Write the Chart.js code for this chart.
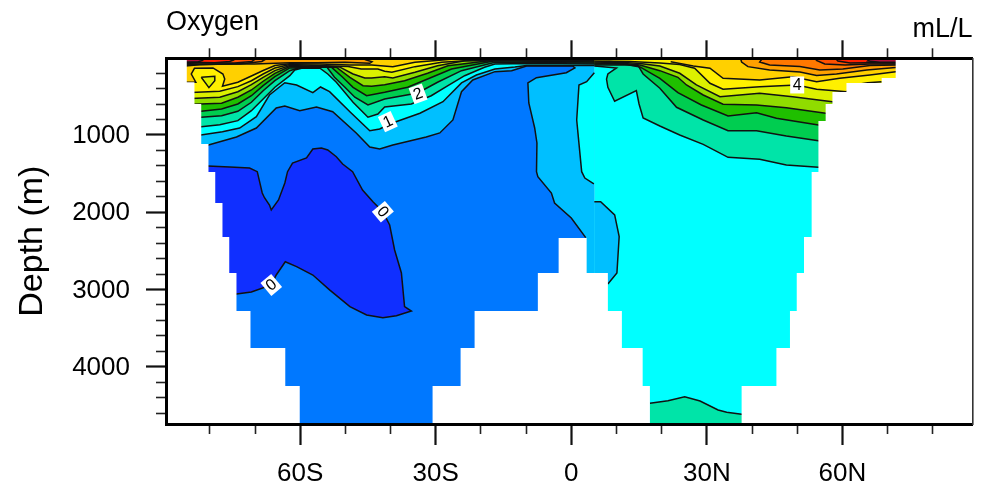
<!DOCTYPE html>
<html>
<head>
<meta charset="utf-8">
<title>Oxygen</title>
<script src="https://cdn.jsdelivr.net/npm/chart.js@4"></script>
<style>
  html, body { margin: 0; padding: 0; background: #fff; }
  #wrap { width: 991px; height: 489px; }
</style>
</head>
<body>
<div id="wrap"><canvas id="chart"></canvas></div>
<script>
// Axis ranges and ticks
const latMin = -89.7, latMax = 88.8;
const depthMin = 8, depthMax = 4740;
const latTicks = [-60, -30, 0, 30, 60];
const latMinorTicks = [-80, -70, -50, -40, -20, -10, 10, 20, 40, 50, 70, 80];
const depthTicks = [1000, 2000, 3000, 4000];
const depthMinorTicks = [200, 400, 600, 800, 1200, 1400, 1600, 1800, 2200, 2400, 2600, 2800, 3200, 3400, 3600, 3800, 4200, 4400, 4600];

// Contours, [latitude, depth]. s = south of the 5N break, n = north of it
const s00 = [[-82.3,1401],[-80.5,1401],[-75.6,1414],[-71.2,1427],[-69.5,1475],[-68.4,1751],[-67.9,1812],[-66.8,1906],[-66.4,1971],[-64.8,1841],[-63.4,1621],[-62.8,1475],[-61.7,1363],[-58.6,1298],[-57.2,1181],[-55.3,1168],[-53.9,1194],[-52,1281],[-50.6,1376],[-48.4,1475],[-46.2,1712],[-43.9,1863],[-41.7,1993],[-40.2,2165],[-39.1,2488],[-37.6,2786],[-36.9,3222],[-35.4,3278],[-38.7,3338],[-41.7,3364],[-45.3,3329],[-49,3222],[-53.5,3005],[-57.2,2812],[-60.8,2704],[-63.3,2640],[-65.3,2812],[-66.4,2941],[-70.8,3032],[-74.1,3058],[-76.7,3058]];
const s05 = [[-86.7,1143],[-80.3,1130],[-74.1,1026],[-69.7,910],[-65.3,651],[-63.4,625],[-60.1,686],[-56.4,638],[-52.8,699],[-47.6,974],[-44.6,1156],[-42.4,1181],[-39.5,1130],[-32.1,1026],[-29.1,974],[-26.2,806],[-24.3,440],[-21.8,289],[-16.9,181],[-13.2,168],[-9.9,107],[0.3,107],[0.8,133],[-1.1,194],[-7.7,259],[-9.6,327],[-9.4,586],[-8.1,910],[-7.6,1104],[-7.7,1475],[-7.4,1540],[-4.4,1751],[-3.7,1880],[0,2074],[3.2,2329]];
const s10 = [[-86.7,1000],[-82,1000],[-77.2,958],[-73.4,910],[-69.7,763],[-66.8,483],[-63.4,324],[-60.8,353],[-57.2,453],[-55.5,379],[-53.5,440],[-49,699],[-44.6,945],[-42.4,923],[-40.2,858],[-33.5,719],[-28.4,569],[-24.3,327],[-21,224],[-16.9,146],[-12.5,120],[-9.9,101],[4.1,101],[5.1,101]];
const s10Wedge = [[5.1,194],[3.4,311],[1.7,353],[1.2,806],[2.3,1475],[3,1557],[5,1634]];
const s15 = [[-86.7,893],[-81.9,893],[-77.8,867],[-73.8,815],[-70.8,686],[-68.2,534],[-65.6,383],[-62.3,233],[-61.2,159],[-59.7,137],[-55.7,133],[-53.9,211],[-52,318],[-48.3,577],[-45,771],[-42.8,729],[-41.3,638],[-35.4,599],[-31,492],[-27.3,362],[-23.6,233],[-19.2,124],[-16.9,82],[-9.2,75],[5.1,82]];
const s20 = [[-86.7,771],[-81.9,771],[-77.4,751],[-73.8,694],[-70.8,577],[-68.2,427],[-65.6,298],[-62.3,168],[-60.1,127],[-54.1,120],[-52.4,254],[-50.1,383],[-47.9,512],[-45,612],[-41.3,534],[-34,457],[-29.6,318],[-24.3,168],[-16.9,60],[5.1,69]];
const s25 = [[-86.7,694],[-81.9,694],[-77.4,664],[-73.8,599],[-70.8,492],[-68.2,362],[-65.6,246],[-62.3,133],[-53.1,122],[-50.6,254],[-48.3,383],[-45.3,492],[-41.3,448],[-36.2,383],[-31.8,276],[-26.5,146],[-16.9,39],[5.1,56]];
const s30 = [[-86.7,608],[-77.4,590],[-73.8,512],[-70.8,418],[-68.2,305],[-65.6,202],[-62.3,114],[-52,124],[-49,254],[-46.1,362],[-44.2,370],[-41.3,349],[-36.9,298],[-31.8,202],[-27.3,104],[-16.9,30],[5.1,43]];
const s35 = [[-86.7,534],[-77.8,512],[-73.8,440],[-70.8,349],[-68.2,254],[-65.6,168],[-62.3,101],[-51.3,120],[-48.3,211],[-45.7,263],[-44.2,263],[-41.3,246],[-39.5,263],[-34.6,189],[-29.6,104],[-23.6,39],[5.1,36]];
const s40 = [[-86.7,457],[-77.8,435],[-73.8,375],[-70.8,298],[-68.2,211],[-65.6,133],[-62.3,88],[-49.4,114],[-46.5,146],[-42.8,146],[-41.3,176],[-39.7,189],[-34.6,116],[-28.7,60],[-20.7,30],[-13.6,17]];
const s45 = [[-86.7,318],[-83.1,318],[-84.1,211],[-83.4,137],[-79.3,133],[-77.1,211],[-76.7,276],[-77.2,370],[-73.8,318],[-70.8,237],[-68.2,166],[-65.6,101],[-62.3,78],[-55.7,82],[-49,94],[-44.2,94],[-39.5,116],[-34.6,60],[-28.5,30],[-25.8,17]];
const s50 = [[-86.7,114],[-82.3,91],[-74.9,78],[-70.1,82],[-62.3,66],[-56.1,65],[-50.1,60],[-44.6,72],[-44.1,52],[-45.7,23]];
const s55 = [[-86.7,94],[-82.3,88],[-73.4,82],[-68.5,49],[-67.6,17]];
const s60 = [[-86.7,75],[-82.3,69],[-74.5,69],[-70.7,49],[-69.9,17]];
const s65 = [[-86.7,69],[-82.3,62],[-78.9,65],[-75.6,49],[-74.7,30],[-74.7,17]];
const s70 = [[-86.7,56],[-82.7,56],[-81.6,36],[-81.4,17]];
const sPocket = [[-81.9,254],[-78.9,241],[-78.9,298],[-80.2,388],[-81.9,254]];

const n10 = [[5.1,1863],[6.5,1863],[9.6,2035],[10.6,2316],[10.1,2786],[8.1,2928]];
const n15 = [[5.1,107],[7,116],[10,133],[8.1,211],[7.8,276],[8.1,383],[9.6,564],[14.4,427],[15,599],[15.9,780],[19.6,884],[24,1000],[29.2,1121],[34.7,1289],[41.7,1315],[47.6,1388],[54.7,1418],[75,1418]];
const n15Deep = [[17.4,4472],[21.4,4438],[25.1,4387],[28.5,4442],[32.5,4559],[34.4,4589],[37.7,4614],[39,4614]];
const n20 = [[5.1,94],[11.8,90],[14.8,104],[15.9,211],[19.6,396],[23.3,642],[29.2,806],[34.7,945],[41,945],[47.6,1013],[54.7,1074],[75,1078]];
const n25 = [[5.1,82],[10.7,72],[15.2,120],[19.6,267],[23.6,453],[28.8,612],[34.7,754],[41,712],[45.4,784],[54.7,871],[75,884]];
const n30 = [[5.1,69],[9.6,62],[15.2,94],[19.6,168],[23.6,254],[25.5,353],[29.2,483],[33.6,603],[41,612],[47.6,647],[56.3,719],[75,729]];
const n35 = [[5.1,56],[8.5,50],[15.2,75],[19.6,107],[24,202],[27.7,353],[32.9,505],[41.7,461],[49,505],[57.8,569],[75,573]];
const n40 = [[5.1,43],[13,49],[19.6,69],[24,88],[27.3,137],[30.7,331],[33.6,409],[41.7,375],[49.9,353],[54.3,409],[60.9,440],[63.9,340],[65.6,324],[68.7,311]];
const n45 = [[22,52],[27,107],[30.7,137],[33.6,267],[41.7,289],[49,246],[54.3,311],[59.4,267],[66.1,224],[71.8,181],[75,172]];
const n50 = [[37.5,17],[37.7,56],[39.1,116],[43.9,159],[50.6,185],[54.3,230],[58.7,211],[65.4,159],[71.8,127],[75,120]];
const n55 = [[42.2,17],[41.7,56],[43.9,94],[50.6,114],[55,159],[60.1,146],[66.1,101],[71.8,94],[75,94]];
const n60 = [[54.6,17],[54.3,36],[56.1,82],[60.6,94],[66.1,82],[71.8,82],[75,82]];
const n65 = [[58.6,17],[59,43],[61.7,69],[66.1,66],[71.8,69],[75,69]];
const n70 = [[66.1,17],[65.6,43],[68.3,60],[71.8,60],[75,60]];

// Sea floor steps, the white land outside them
const landWest = [[-95,0],[-85.1,0],[-85.1,318],[-83.4,318],[-83.4,599],[-81.9,599],[-81.9,1117],[-80.3,1117],[-80.3,1479],[-78.8,1479],[-78.8,1880],[-77.2,1880],[-77.2,2320],[-75.7,2320],[-75.7,2786],[-74.1,2786],[-74.1,3278],[-71,3278],[-71,3756],[-63.3,3756],[-63.3,4248],[-60.1,4248],[-60.1,4800],[-95,4800]];
const landMiddle = [[-30.7,4800],[-30.7,4248],[-24.5,4248],[-24.5,3756],[-21.4,3756],[-21.4,3278],[-7.4,3278],[-7.4,2786],[-2.8,2786],[-2.8,2333],[3.4,2333],[3.4,2786],[8.1,2786],[8.1,3278],[11.2,3278],[11.2,3756],[15.8,3756],[15.8,4248],[17.4,4248],[17.4,4800]];
const landEast = [[37.7,4800],[37.7,4248],[45.4,4248],[45.4,3756],[48.4,3756],[48.4,3278],[49.9,3278],[49.9,2786],[51.5,2786],[51.5,2320],[53.2,2320],[53.2,1479],[54.7,1479],[54.7,819],[56.3,819],[56.3,599],[57.8,599],[57.8,444],[60.9,444],[60.9,327],[68.7,327],[68.7,263],[71.8,263],[71.8,0],[95,0],[95,4800]];

// Contour labels
const labelTexts = ['2', '1', '0', '0', '4'];
const labelLats = [-33.9, -40.6, -41.7, -66.4, 50];
const labelDepths = [469, 828, 1993, 2941, 353];
const labelAngles = [-20, -25, 50, -40, 0];

const FONT = "'Liberation Sans', Arial, sans-serif";
const BLACK = '#000';

// Colour per band
const COL = {
    neg: '#102FFF', c00: '#0078FF', c05: '#00BFFF', c10: '#00FFFF', c15: '#00E4A8',
    c20: '#00CD50', c25: '#1FBF00', c30: '#90DC00', c35: '#DCF000', c40: '#FFF000',
    c45: '#FFD000', c50: '#FFA000', c55: '#FF7800', c60: '#FF5000', c65: '#FF2000', c70: '#B0103C'
};

// Polygon from a contour up to the surface
function toSurface(path) {
    return [[path[0][0], 0], ...path, [path[path.length - 1][0], 0]];
}

// fill:'shape' clips to the x of the first and last point, so open and end
// the ring with a flat zero-area spike out to its widest x
function ringPoints(ring) {
    const lats = ring.map(p => p[0]);
    const d = ring[0][1];
    const pts = [[Math.min(...lats), d], ...ring, ring[0], [Math.max(...lats), d]];
    return pts.map(p => ({ x: p[0], y: p[1] }));
}

const fills = [
    { ring: [[-95,0],[5.1,0],[5.1,4800],[-95,4800]], color: COL.c00 },
    { ring: [[5.1,0],[95,0],[95,4800],[5.1,4800]], color: COL.c10 },
    { ring: [...s00, [-85,3058], [-85,1401]], color: COL.neg, line: s00 },
    { ring: toSurface([...s05, [3.2,2900], [5.1,2900]]), color: COL.c05, line: s05 },
    { ring: toSurface(s10), color: COL.c10, line: s10 },
    { ring: [...s10Wedge, [5.2,1634], [5.2,194]], color: COL.c10, line: s10Wedge },
    { ring: toSurface(s15), color: COL.c15, line: s15 },
    { ring: toSurface(s20), color: COL.c20, line: s20 },
    { ring: toSurface(s25), color: COL.c25, line: s25 },
    { ring: toSurface(s30), color: COL.c30, line: s30 },
    { ring: toSurface(s35), color: COL.c35, line: s35 },
    { ring: toSurface(s40), color: COL.c40, line: s40 },
    { ring: sPocket, color: COL.c35, line: sPocket },
    { ring: toSurface(s45), color: COL.c45, line: s45 },
    { ring: toSurface(s50), color: COL.c50, line: s50 },
    { ring: toSurface(s55), color: COL.c55, line: s55 },
    { ring: toSurface(s60), color: COL.c60, line: s60 },
    { ring: toSurface(s65), color: COL.c65, line: s65 },
    { ring: toSurface(s70), color: COL.c70, line: s70 },
    { ring: [...n10, [5.1,2928]], color: COL.c05, line: n10 },
    { ring: toSurface(n15), color: COL.c15, line: n15 },
    { ring: [...n15Deep, [39,4800], [17.4,4800]], color: COL.c15, line: n15Deep },
    { ring: toSurface(n20), color: COL.c20, line: n20 },
    { ring: toSurface(n25), color: COL.c25, line: n25 },
    { ring: toSurface(n30), color: COL.c30, line: n30 },
    { ring: toSurface(n35), color: COL.c35, line: n35 },
    { ring: toSurface([...n40, [75,311]]), color: COL.c40, line: n40 },
    { ring: toSurface(n45), color: COL.c45, line: n45 },
    { ring: toSurface(n50), color: COL.c50, line: n50 },
    { ring: toSurface(n55), color: COL.c55, line: n55 },
    { ring: toSurface(n60), color: COL.c60, line: n60 },
    { ring: toSurface(n65), color: COL.c65, line: n65 },
    { ring: toSurface(n70), color: COL.c70, line: n70 }
];

// Datasets: all fills, then all contour lines, then the land on top.
// The long dash keeps Chart.js off its fast path, which merges points on one pixel column
const datasets = [];
const base = { showLine: true, pointRadius: 0, pointHitRadius: 0, borderDash: [9999] };
fills.forEach(f => {
    datasets.push({ ...base, data: ringPoints(f.ring), fill: 'shape', backgroundColor: f.color, borderWidth: 0 });
});
fills.filter(f => f.line).forEach(f => {
    datasets.push({ ...base, data: f.line.map(p => ({ x: p[0], y: p[1] })), fill: false, borderColor: '#111', borderWidth: 1.5 });
});
[landWest, landMiddle, landEast].forEach(land => {
    datasets.push({ ...base, data: ringPoints(land), fill: 'shape', backgroundColor: '#fff', borderWidth: 0 });
});
datasets.forEach((d, i) => { d.order = -i; });

function setTicks(values) {
    return axis => { axis.ticks = values.map(v => ({ value: v })); };
}

function latLabel(v) {
    if (v === 0) return '0';
    return v < 0 ? (-v) + 'S' : v + 'N';
}

// Axes for the short ticks sit on the same edge with no size of their own
function tickAxis(position, range, values, length, weight, size) {
    return {
        type: 'linear',
        position: position,
        min: range[0],
        max: range[1],
        reverse: range === depthRange,
        weight: weight,
        afterBuildTicks: setTicks(values),
        afterFit: axis => {
            if (position === 'left' || position === 'right') axis.width = size; else axis.height = size;
        },
        ticks: { display: false },
        grid: { drawOnChartArea: false, tickLength: length, tickWidth: 1.6, tickColor: '#222' },
        border: { display: false }
    };
}

const latRange = [latMin, latMax];
const depthRange = [depthMin, depthMax];
const edge = { color: BLACK, width: 3, z: 1 };

const contourLabels = {
    id: 'contourLabels',
    afterDatasetsDraw(chart) {
        const ctx = chart.ctx;
        labelTexts.forEach((t, i) => {
            ctx.save();
            ctx.translate(chart.scales.x.getPixelForValue(labelLats[i]), chart.scales.y.getPixelForValue(labelDepths[i]));
            ctx.rotate(labelAngles[i] * Math.PI / 180);
            ctx.fillStyle = '#fff';
            ctx.fillRect(-7, -8.5, 14, 17);
            ctx.fillStyle = BLACK;
            ctx.font = '16px ' + FONT;
            ctx.textAlign = 'center';
            ctx.textBaseline = 'middle';
            ctx.fillText(t, 0, 0.5);
            ctx.restore();
        });
    }
};

new Chart(document.getElementById('chart').getContext('2d'), {
    type: 'scatter',
    data: { datasets: datasets },
    plugins: [contourLabels],
    options: {
        responsive: true,
        maintainAspectRatio: false,
        animation: false,
        events: [],
        layout: { padding: 0 },
        plugins: {
            legend: { display: false },
            tooltip: { enabled: false },
            title: {
                display: true,
                text: 'Oxygen',
                align: 'start',
                fullSize: false,
                color: BLACK,
                font: { family: FONT, size: 27, weight: 'normal', lineHeight: 1.2 },
                padding: { top: 6, bottom: 0 }
            }
        },
        scales: {
            x: {
                type: 'linear',
                position: 'bottom',
                min: latMin,
                max: latMax,
                weight: 1,
                afterBuildTicks: setTicks(latTicks),
                afterFit: axis => { axis.height = 65; },
                ticks: {
                    callback: latLabel,
                    autoSkip: false,
                    maxRotation: 0,
                    padding: 13.5,
                    color: BLACK,
                    font: { family: FONT, size: 26 }
                },
                grid: { drawOnChartArea: false, tickLength: 21, tickWidth: 2.2, tickColor: '#111' },
                border: edge
            },
            xMinor: tickAxis('bottom', latRange, latMinorTicks, 10, 0, 0),
            xTop: {
                type: 'linear',
                position: 'top',
                min: latMin,
                max: latMax,
                weight: 1,
                afterBuildTicks: setTicks(latTicks),
                afterFit: axis => { axis.height = 19.9; },
                title: {
                    display: true,
                    text: 'mL/L',
                    align: 'end',
                    color: BLACK,
                    font: { family: FONT, size: 27, lineHeight: 1.2 },
                    padding: { top: -24.6, bottom: 0 }
                },
                ticks: { display: false },
                grid: { drawOnChartArea: false, tickLength: 18, tickWidth: 2.2, tickColor: '#111' },
                border: edge
            },
            xTopMinor: tickAxis('top', latRange, latMinorTicks, 10, 0, 0),
            y: {
                type: 'linear',
                position: 'left',
                reverse: true,
                min: depthMin,
                max: depthMax,
                weight: 1,
                afterBuildTicks: setTicks(depthTicks),
                afterFit: axis => { axis.width = 166; },
                title: {
                    display: true,
                    text: 'Depth (m)',
                    color: BLACK,
                    font: { family: FONT, size: 34, lineHeight: 1.2 },
                    padding: { top: 12, bottom: 0 }
                },
                ticks: {
                    autoSkip: false,
                    padding: 16,
                    labelOffset: 1,
                    color: BLACK,
                    font: { family: FONT, size: 26 },
                    callback: v => String(v)
                },
                grid: { drawOnChartArea: false, tickLength: 20, tickWidth: 2.2, tickColor: '#111' },
                border: edge
            },
            yMinor: tickAxis('left', depthRange, depthMinorTicks, 10, 0, 0),
            yRight: {
                type: 'linear',
                position: 'right',
                reverse: true,
                min: depthMin,
                max: depthMax,
                afterFit: axis => { axis.width = 18.5; },
                ticks: { display: false },
                grid: { drawOnChartArea: false, drawTicks: false },
                border: { color: '#333', width: 1.6, z: 1 }
            }
        }
    }
});
</script>
</body>
</html>
